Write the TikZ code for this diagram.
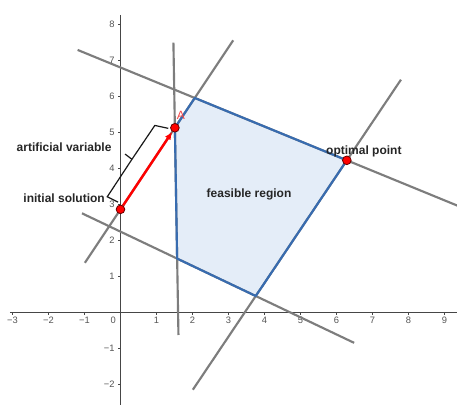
\documentclass[tikz,border=0pt]{standalone}
\usepackage{fontspec}
\setmainfont{Liberation Sans}
\usetikzlibrary{arrows.meta}
\definecolor{edgeblue}{RGB}{56,108,176}
\definecolor{regionfill}{RGB}{228,237,248}
\definecolor{linegray}{RGB}{125,125,125}
\definecolor{axisgray}{RGB}{70,70,70}
\definecolor{ticklabel}{RGB}{85,85,85}
\definecolor{labelred}{RGB}{245,70,70}
\begin{document}
\begin{tikzpicture}[x=27pt,y=27pt,
  constraint/.style={draw=linegray,line width=1.6pt},
  edge/.style={draw=edgeblue,line width=1.6pt,line join=round},
  pt/.style={circle,fill=red,draw=black!60!red,line width=0.6pt,inner sep=0pt,minimum size=6.5pt},
  lbl/.style={font=\bfseries\fontsize{9}{11}\selectfont,text=black!85,inner sep=0pt},
  ticklbl/.style={font=\fontsize{7}{8}\selectfont,text=ticklabel,inner sep=0pt},
  axisline/.style={draw=axisgray,line width=0.6pt},
  braceline/.style={draw=black!90,line width=0.9pt,line join=miter}]
\useasboundingbox (-3.347,-2.575) rectangle (9.347,8.675);
\fill[white] (-3.347,-2.575) rectangle (9.347,8.675);

% axes
\coordinate (xl) at (-3.07,0);
\coordinate (xr) at (9.347,0);
\coordinate (yt) at (0,8.26);
\coordinate (yb) at (0,-2.575);
\draw[axisline] (xl) -- (xr);
\draw[axisline] (yt) -- (yb);
\foreach \i in {-3,...,9} \draw[axisline] (\i,0) -- (\i,-0.08);
\foreach \j in {-2,...,8} \draw[axisline] (0,\j) -- (-0.08,\j);
\foreach \i/\t in {-3/−3,-2/−2,-1/−1,1/1,2/2,3/3,4/4,5/5,6/6,7/7,8/8,9/9}
  \node[ticklbl] (xt\i) at (\i,-0.228) {\t};
\foreach \j/\t in {-2/−2,-1/−1,1/1,2/2,3/3,4/4,5/5,6/6,7/7,8/8}
  \node[ticklbl,anchor=east] (yt\j) at (-0.16,\j) {\t};
\node[ticklbl] (zero) at (-0.2,-0.228) {0};

% feasible region vertices
\coordinate (V1) at (1.511,5.126);
\coordinate (V2) at (2.063,5.954);
\coordinate (V3) at (6.287,4.222);
\coordinate (V4) at (3.757,0.453);
\coordinate (V5) at (1.573,1.492);
\fill[regionfill] (V1) -- (V2) -- (V3) -- (V4) -- (V5) -- cycle;

% constraint lines
\coordinate (L1a) at (-1.19,7.288); \coordinate (L1b) at (9.4,2.946);
\coordinate (L2a) at (-0.99,1.375); \coordinate (L2b) at (3.13,7.555);
\coordinate (L3a) at (1.47,7.49);   \coordinate (L3b) at (1.61,-0.63);
\coordinate (L4a) at (-1.07,2.750); \coordinate (L4b) at (6.49,-0.848);
\coordinate (L5a) at (2.01,-2.150); \coordinate (L5b) at (7.79,6.462);
\draw[constraint] (L1a) -- (L1b);
\draw[constraint] (L2a) -- (L2b);
\draw[constraint] (L3a) -- (L3b);
\draw[constraint] (L4a) -- (L4b);
\draw[constraint] (L5a) -- (L5b);

% region edges
\draw[edge] (V1) -- (V2) -- (V3) -- (V4) -- (V5) -- cycle;

% points
\node[pt] (S) at (0,2.86) {};
\node[pt] (A) at (V1) {};
\node[pt] (O) at (V3) {};
\draw[red,line width=1.8pt,-{Latex[length=6pt,width=5pt]}] (S) -- (A);

% brace
\coordinate (b1) at (-0.068,3.059);
\coordinate (b2) at (-0.367,3.210);
\coordinate (bm) at (0.318,4.250);
\coordinate (bt) at (0.128,4.395);
\coordinate (b3) at (0.954,5.191);
\coordinate (b4) at (1.327,5.110);
\draw[braceline] (b1) -- (b2) -- (bm) -- (b3) -- (b4);
\draw[braceline] (bm) -- (bt);

% labels
\node[lbl,anchor=base east] (artlbl) at (-0.244,4.48) {artificial variable};
\node[lbl,anchor=base east] (initlbl) at (-0.43,3.045) {initial solution};
\node[lbl,anchor=base] (feaslbl) at (3.57,3.20) {feasible region};
\node[lbl,anchor=base] (optlbl) at (6.76,4.37) {optimal point};
\node[font=\fontsize{9}{10}\selectfont,text=labelred,anchor=base,inner sep=0pt] (Albl) at (1.68,5.36) {A};
\end{tikzpicture}
\end{document}
